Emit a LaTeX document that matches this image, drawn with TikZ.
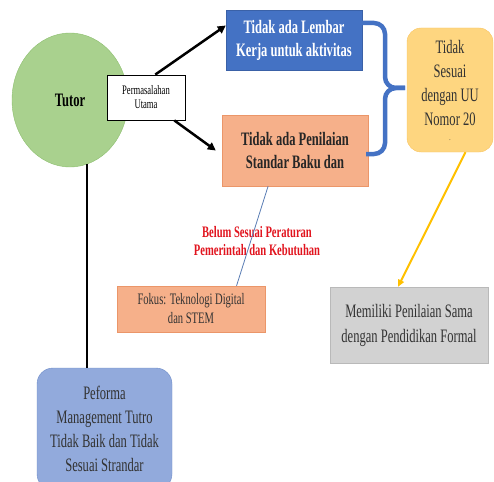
\documentclass[tikz,border=0pt]{standalone}
\usepackage{fontspec}
\setmainfont{Liberation Serif}[FakeStretch=0.66]
\usepackage{tikz}
\usetikzlibrary{shapes.geometric,arrows.meta}
\definecolor{TutorGreen}{RGB}{169,209,142}
\definecolor{TutorEdge}{RGB}{140,190,110}
\definecolor{KerjaBlue}{RGB}{68,114,196}
\definecolor{NilaiOrange}{RGB}{246,176,138}
\definecolor{NilaiEdge}{RGB}{235,150,105}
\definecolor{UUYellow}{RGB}{254,214,128}
\definecolor{UUEdge}{RGB}{248,196,96}
\definecolor{ArrowGold}{RGB}{255,192,0}
\definecolor{SamaGray}{RGB}{210,210,210}
\definecolor{SamaEdge}{RGB}{185,185,185}
\definecolor{PeformaBlue}{RGB}{146,170,220}
\definecolor{PeformaEdge}{RGB}{110,140,200}
\definecolor{BelumRed}{RGB}{225,20,30}
\definecolor{ThinBlue}{RGB}{90,125,180}
\tikzset{
  kotak/.style={rectangle,inner sep=0pt,align=center,font=\fontsize{19}{24}\selectfont},
  panah/.style={draw=black,line width=2.5pt,-{Triangle[length=8pt,width=8pt]}},
  kurung/.style={draw=KerjaBlue,line width=4.5pt,rounded corners=11pt},
}
\tikzset{tebal/.style={font=\fontsize{19}{23}\selectfont\bfseries}}

\begin{document}
\begin{tikzpicture}[x=1pt,y=-1pt]
\clip (0,0) rectangle (494,481);
\useasboundingbox (0,0) rectangle (494,481);
\node[ellipse,draw=TutorEdge,fill=TutorGreen,minimum width=116pt,minimum height=134pt,tebal] (tutor) at (70,100) {Tutor};
\node[kotak,draw=black,fill=white,line width=0.8pt,minimum width=78pt,minimum height=45pt,font=\fontsize{13}{14}\selectfont] (masalah) at (146,97.5) {Permasalahan\\Utama};
\node[kotak,fill=KerjaBlue,draw=KerjaBlue!85!black,minimum width=136pt,minimum height=60pt,tebal,text=white] (lembar) at (294,40) {Tidak ada Lembar\\Kerja untuk aktivitas};
\node[kotak,fill=NilaiOrange,draw=NilaiEdge,minimum width=146pt,minimum height=71pt,tebal,text=black!85] (penilaian) at (295,150.5) {Tidak ada Penilaian\\Standar Baku dan};
\node[kotak,rounded corners=14pt,fill=UUYellow,draw=UUEdge,minimum width=86pt,minimum height=124pt,text=black!80] (uu) at (450,90) {Tidak\\Sesuai\\dengan UU\\Nomor 20\\[-9pt]{\fontsize{8}{8}\selectfont .}};
\node[kotak,fill=SamaGray,draw=SamaEdge,minimum width=158pt,minimum height=76pt,text=black!80,font=\fontsize{19}{25}\selectfont] (sama) at (409,325) {Memiliki Penilaian Sama\\dengan Pendidikan Formal};
\node[align=center,inner sep=0pt,text=BelumRed,font=\fontsize{16}{18}\selectfont\bfseries] (belum) at (257,241) {Belum Sesuai Peraturan\\Pemerintah dan Kebutuhan};
\node[kotak,fill=NilaiOrange,draw=NilaiEdge,minimum width=148pt,minimum height=46pt,text=black!80,font=\fontsize{16}{19}\selectfont] (fokus) at (191,309) {Fokus: Teknologi Digital\\dan STEM};
\node[kotak,rounded corners=16pt,fill=PeformaBlue,draw=PeformaEdge,minimum width=135pt,minimum height=122pt,text=black!80] (peforma) at (104.5,429) {Peforma\\Management Tutro\\Tidak Baik dan Tidak\\Sesuai Strandar};
\draw[panah] (masalah.68) -- (lembar.168);
\draw[panah] (masalah.-39) -- ([xshift=-6pt]penilaian.west);
\draw[kurung] (362,23) -- (385,23) -- (385,88) -- (405,88);
\draw[kurung] (405,88) -- (385,88) -- (385,154) -- (366,154);
\draw[ArrowGold,line width=2pt,-{Triangle[length=7pt,width=6pt]}] (uu.-76) -- (sama.106);
\draw[ThinBlue,line width=0.8pt] (penilaian.-127) -- (fokus.27);
\draw[black,line width=1.6pt] (tutor.-75) -- (tutor.-75 |- peforma.north);
\end{tikzpicture}
\end{document}
